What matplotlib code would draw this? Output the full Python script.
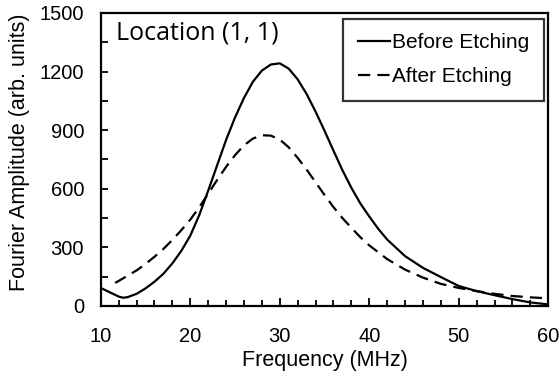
import numpy as np
import matplotlib
matplotlib.use('Agg')
from matplotlib import pyplot as plt
from matplotlib.ticker import MultipleLocator

# Values
freq_before = [10, 11, 12, 12.5, 13, 14, 15, 16, 17, 18, 19, 20, 21, 22, 23, 24, 25,
               26, 27, 28, 29, 30, 31, 32, 33, 34, 35, 36, 37, 38, 39, 40, 41, 42,
               44, 46, 48, 50, 52, 54, 56, 58, 60]
amp_before = [92, 70, 48, 42, 45, 62, 90, 124, 165, 218, 282, 360, 465, 590, 720, 850, 965,
              1065, 1148, 1205, 1236, 1242, 1215, 1160, 1085, 995, 897, 795, 695, 605, 525, 458, 395, 340,
              255, 195, 148, 102, 76, 55, 35, 18, 8]

freq_after = [11.6, 12, 13, 14, 15, 16, 17, 18, 19, 20, 21, 22, 23, 24, 25, 26, 27, 28,
              29, 30, 31, 32, 33, 34, 35, 36, 37, 38, 39, 40, 42, 44, 46, 48, 50, 52,
              54, 56, 58, 60]
amp_after = [118, 128, 155, 182, 215, 252, 292, 338, 388, 442, 505, 575, 645, 712, 772, 822, 857, 874,
             872, 852, 812, 758, 698, 633, 568, 506, 450, 400, 352, 310, 240, 186, 145, 113, 92, 76,
             62, 51, 44, 39]

plt.rcParams['font.family'] = ['Liberation Sans', 'DejaVu Sans']

fig = plt.figure(figsize=(5.6, 3.81), dpi=100)
ax = fig.add_axes([0.180, 0.197, 0.799, 0.769])

ax.plot(freq_before, amp_before, '-', color='black', linewidth=1.6, label='Before Etching')
ax.plot(freq_after, amp_after, color='black', linewidth=1.6, dashes=(5.5, 3.2), label='After Etching')

ax.set_xlim(10, 60)
ax.set_ylim(0, 1500)
ax.xaxis.set_major_locator(MultipleLocator(10))
ax.xaxis.set_minor_locator(MultipleLocator(2))
ax.yaxis.set_major_locator(MultipleLocator(300))
ax.yaxis.set_minor_locator(MultipleLocator(150))

ax.tick_params(axis='x', which='major', direction='in', length=6, width=1.3, pad=15, labelsize=14.5)
ax.tick_params(axis='x', which='minor', direction='in', length=4, width=1.3)
ax.tick_params(axis='y', which='major', direction='in', length=5, width=1.3, pad=12, labelsize=14.5)
ax.tick_params(axis='y', which='minor', direction='in', length=5, width=1.3)
for s in ax.spines.values():
    s.set_linewidth(1.6)

ax.set_xlabel('Frequency (MHz)', fontsize=15.5, labelpad=3)
ax.set_ylabel('Fourier Amplitude (arb. units)', fontsize=15.5)
ax.yaxis.set_label_coords(-0.158, 0.526)

ax.text(0.034, 0.975, 'Location (1, 1)', transform=ax.transAxes, fontsize=18,
        family=['Open Sans', 'DejaVu Sans'], va='top', ha='left')

leg = ax.legend(loc='upper right', bbox_to_anchor=(0.991, 0.98), fontsize=15,
                frameon=True, fancybox=False, edgecolor='black',
                handlelength=1.55, handletextpad=0.1, borderpad=0.7,
                labelspacing=0.7, borderaxespad=0)
leg.get_frame().set_linewidth(1.6)

fig.savefig('out.png', dpi=100)
